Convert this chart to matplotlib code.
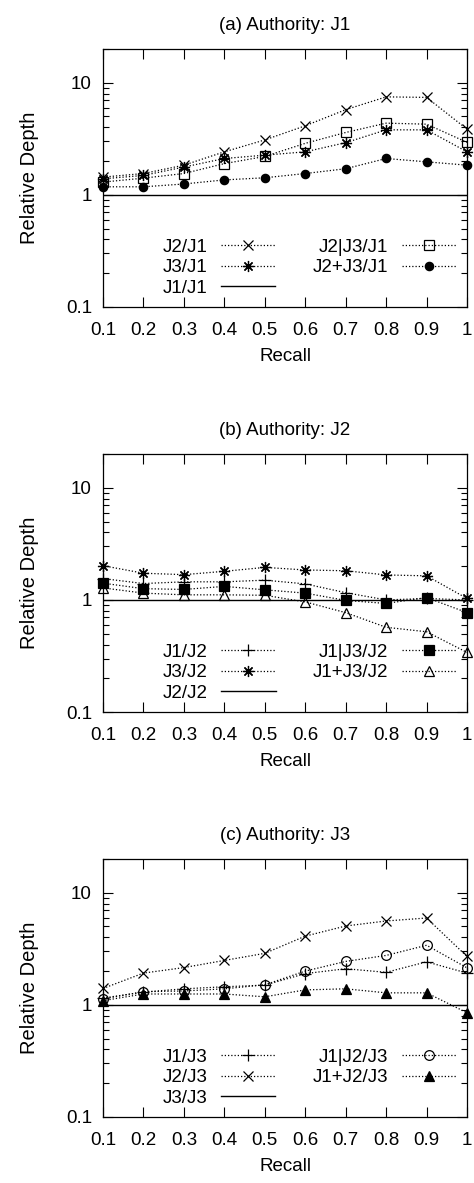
import matplotlib
matplotlib.use("Agg")
import matplotlib.pyplot as plt
from matplotlib.ticker import FixedLocator, LogLocator, NullFormatter

plt.rcParams["font.family"] = ["Liberation Sans", "DejaVu Sans"]
plt.rcParams["font.size"] = 13.5

recall = [0.1, 0.2, 0.3, 0.4, 0.5, 0.6, 0.7, 0.8, 0.9, 1.0]
recall_labels = ["0.1", "0.2", "0.3", "0.4", "0.5", "0.6", "0.7", "0.8", "0.9", "1"]
baseline = [1.0] * len(recall)

# (a) authority J1
a_j2 = [1.44, 1.55, 1.84, 2.42, 3.09, 4.13, 5.75, 7.48, 7.40, 3.85]
a_j3 = [1.39, 1.49, 1.77, 2.11, 2.26, 2.42, 2.92, 3.80, 3.80, 2.42]
a_j2_or_j3 = [1.30, 1.41, 1.55, 1.90, 2.20, 2.88, 3.60, 4.36, 4.27, 2.94]
a_j2_and_j3 = [1.18, 1.18, 1.25, 1.36, 1.42, 1.55, 1.71, 2.11, 1.97, 1.84]

# (b) authority J2
b_j1 = [1.55, 1.40, 1.45, 1.45, 1.50, 1.39, 1.16, 1.00, 1.03, 1.00]
b_j3 = [2.02, 1.73, 1.68, 1.80, 1.95, 1.85, 1.82, 1.67, 1.64, 1.03]
b_j1_or_j3 = [1.41, 1.26, 1.24, 1.32, 1.23, 1.15, 0.99, 0.93, 1.05, 0.77]
b_j1_and_j3 = [1.28, 1.15, 1.11, 1.11, 1.10, 0.96, 0.77, 0.57, 0.52, 0.34]

# (c) authority J3
c_j1 = [1.15, 1.30, 1.39, 1.45, 1.50, 1.90, 2.10, 1.95, 2.42, 1.92]
c_j2 = [1.40, 1.92, 2.15, 2.49, 2.88, 4.10, 5.05, 5.60, 5.95, 2.70]
c_j1_or_j2 = [1.13, 1.31, 1.33, 1.39, 1.51, 2.00, 2.44, 2.76, 3.40, 2.14]
c_j1_and_j2 = [1.09, 1.25, 1.25, 1.25, 1.18, 1.36, 1.39, 1.28, 1.28, 0.85]

STAR = (8, 2, 0)


def dotted(ax, y, label, marker, ms, filled):
    ax.plot(recall, y, color="black", lw=0.9, dashes=(1, 1.6), label=label,
            marker=marker, ms=ms, mew=0.9,
            mfc="black" if filled else "none", mec="black", clip_on=False)


def panel(ax, title, series, ref_label):
    # series: list of (values, label, marker, size, filled)
    for values, label, marker, ms, filled in series[:2]:
        dotted(ax, values, label, marker, ms, filled)
    ax.plot(recall, baseline, color="black", lw=1.0, label=ref_label)
    for values, label, marker, ms, filled in series[2:]:
        dotted(ax, values, label, marker, ms, filled)

    ax.set_yscale("log")
    ax.set_xlim(0.1, 1.0)
    ax.set_ylim(0.1, 20)
    ax.xaxis.set_major_locator(FixedLocator(recall))
    ax.set_xticklabels(recall_labels)
    ax.yaxis.set_major_locator(FixedLocator([0.1, 1, 10]))
    ax.set_yticklabels(["0.1", "1", "10"])
    ax.yaxis.set_minor_locator(LogLocator(base=10, subs=range(2, 10)))
    ax.yaxis.set_minor_formatter(NullFormatter())
    ax.tick_params(which="both", direction="in", top=True, right=True,
                   width=0.8, labelsize=13.5)
    ax.tick_params(which="major", length=7)
    ax.tick_params(which="minor", length=4)
    ax.tick_params(axis="x", which="major", pad=11)
    ax.tick_params(axis="y", which="major", pad=8)
    for s in ax.spines.values():
        s.set_linewidth(0.9)

    ax.set_title(title, fontsize=13.5, pad=14)
    ax.set_xlabel("Recall", fontsize=13.5, labelpad=6)
    ax.set_ylabel("Relative Depth", fontsize=14.5, labelpad=19)

    handles, labels = ax.get_legend_handles_labels()
    ax.legend(handles, labels, ncol=2, markerfirst=False, frameon=False,
              loc="lower left", bbox_to_anchor=(0.165, 0.04),
              borderaxespad=0, borderpad=0, handlelength=2.9,
              handletextpad=0.7, columnspacing=2.0, labelspacing=0.18,
              fontsize=13.5)


def main():
    fig = plt.figure(figsize=(4.74, 11.83), dpi=100)
    left, width, height = 0.2173, 0.768, 0.2181
    ax_a = fig.add_axes([left, 0.7405, width, height])
    ax_b = fig.add_axes([left, 0.3981, width, height])
    ax_c = fig.add_axes([left, 0.0558, width, height])

    panel(ax_a, "(a) Authority: J1", [
        (a_j2, "J2/J1", "x", 7, False),
        (a_j3, "J3/J1", STAR, 8, False),
        (a_j2_or_j3, "J2|J3/J1", "s", 6.5, False),
        (a_j2_and_j3, "J2+J3/J1", "o", 6, True),
    ], "J1/J1")

    panel(ax_b, "(b) Authority: J2", [
        (b_j1, "J1/J2", "+", 8, False),
        (b_j3, "J3/J2", STAR, 8, False),
        (b_j1_or_j3, "J1|J3/J2", "s", 6.5, True),
        (b_j1_and_j3, "J1+J3/J2", "^", 6.5, False),
    ], "J2/J2")

    panel(ax_c, "(c) Authority: J3", [
        (c_j1, "J1/J3", "+", 8, False),
        (c_j2, "J2/J3", "x", 7, False),
        (c_j1_or_j2, "J1|J2/J3", "o", 7, False),
        (c_j1_and_j2, "J1+J2/J3", "^", 6.5, True),
    ], "J3/J3")

    fig.savefig("out.png", dpi=100)


if __name__ == "__main__":
    main()
